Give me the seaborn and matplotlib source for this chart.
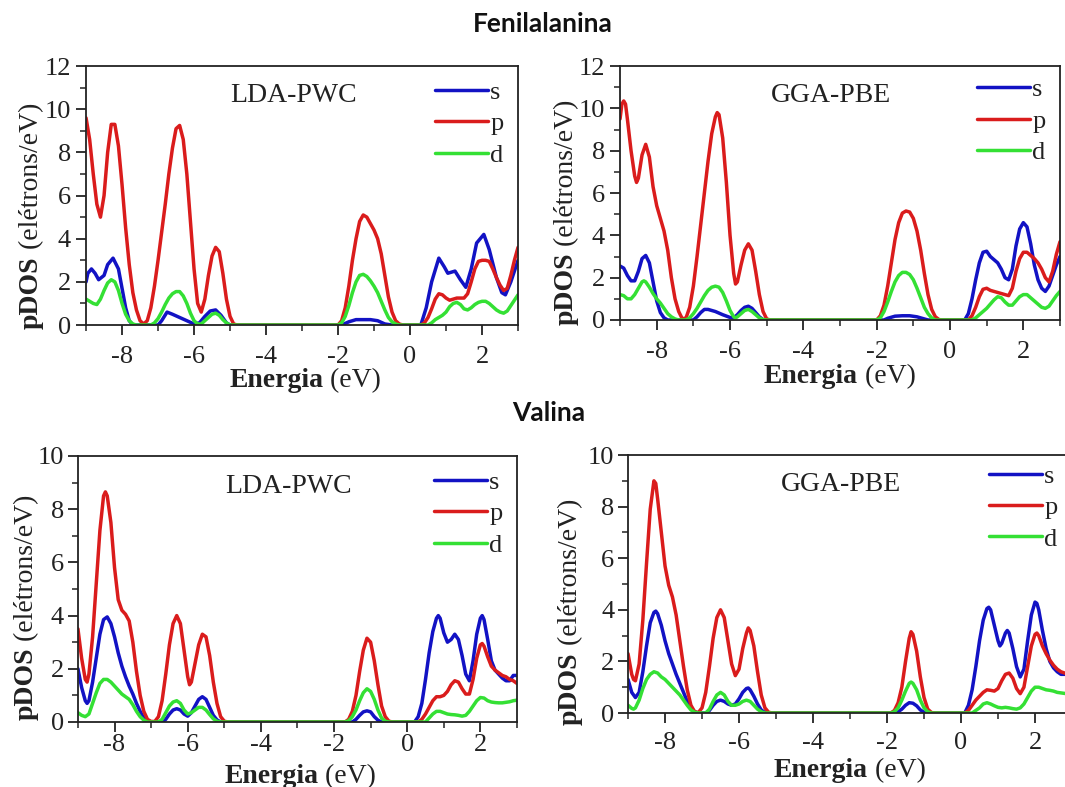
import numpy as np
import pandas as pd
import matplotlib
matplotlib.use("Agg")
import matplotlib.pyplot as plt
from matplotlib.ticker import MultipleLocator
from matplotlib.transforms import offset_copy
import seaborn as sns

# ------------------------------------------------------------------
# DADOS: pares (energia eV, pDOS)
# ------------------------------------------------------------------
ORBITAIS = ["s", "p", "d"]
CORES = ["#1212c4", "#da1c1c", "#34e034"]

# Fenilalanina - LDA-PWC
FEN_LDA_S = [(-9, 2.0), (-8.95, 2.4), (-8.85, 2.6), (-8.75, 2.4), (-8.65, 2.1), (-8.5, 2.3),
             (-8.4, 2.8), (-8.25, 3.1), (-8.1, 2.6), (-8.0, 1.7), (-7.9, 0.8), (-7.8, 0.2),
             (-7.7, 0.0), (-7.0, 0.0), (-6.9, 0.2), (-6.75, 0.6), (-6.6, 0.5), (-6.4, 0.35),
             (-6.2, 0.2), (-6.0, 0.05), (-5.85, 0.1), (-5.7, 0.4), (-5.55, 0.65), (-5.4, 0.7),
             (-5.25, 0.45), (-5.1, 0.1), (-5.0, 0.0), (-1.9, 0.0), (-1.7, 0.15), (-1.5, 0.25),
             (-1.3, 0.25), (-1.1, 0.25), (-0.9, 0.2), (-0.7, 0.05), (-0.5, 0.0), (0.3, 0.0),
             (0.45, 0.8), (0.6, 2.0), (0.8, 3.1), (0.95, 2.7), (1.05, 2.4), (1.25, 2.5),
             (1.4, 2.1), (1.55, 1.75), (1.7, 2.6), (1.85, 3.8), (2.05, 4.2), (2.2, 3.5),
             (2.4, 2.2), (2.55, 1.5), (2.65, 1.4), (2.8, 2.0), (3.0, 3.0)]
FEN_LDA_P = [(-9, 9.6), (-8.9, 8.6), (-8.8, 7.0), (-8.7, 5.6), (-8.6, 5.0), (-8.5, 6.0),
             (-8.4, 8.0), (-8.3, 9.3), (-8.2, 9.3), (-8.1, 8.3), (-8.0, 6.5), (-7.9, 4.5),
             (-7.8, 2.8), (-7.7, 1.5), (-7.6, 0.7), (-7.5, 0.2), (-7.4, 0.05), (-7.3, 0.2),
             (-7.2, 0.8), (-7.1, 1.8), (-7.0, 3.0), (-6.9, 4.3), (-6.8, 5.6), (-6.7, 7.0),
             (-6.6, 8.2), (-6.5, 9.1), (-6.4, 9.25), (-6.3, 8.6), (-6.2, 7.0), (-6.1, 4.8),
             (-6.0, 2.6), (-5.9, 1.0), (-5.8, 0.6), (-5.7, 1.2), (-5.6, 2.3), (-5.5, 3.2),
             (-5.4, 3.6), (-5.3, 3.4), (-5.2, 2.4), (-5.1, 1.2), (-5.0, 0.4), (-4.9, 0.05),
             (-4.8, 0.0), (-2.0, 0.0), (-1.9, 0.2), (-1.8, 0.8), (-1.7, 1.8), (-1.6, 3.0),
             (-1.5, 4.0), (-1.4, 4.8), (-1.3, 5.1), (-1.2, 5.0), (-1.1, 4.7), (-1.0, 4.4),
             (-0.9, 4.0), (-0.8, 3.3), (-0.7, 2.3), (-0.6, 1.3), (-0.5, 0.6), (-0.4, 0.2),
             (-0.3, 0.05), (-0.2, 0.0), (0.3, 0.0), (0.4, 0.1), (0.5, 0.35), (0.6, 0.75),
             (0.7, 1.2), (0.8, 1.45), (0.9, 1.4), (1.0, 1.25), (1.1, 1.15), (1.2, 1.2),
             (1.3, 1.25), (1.4, 1.25), (1.5, 1.25), (1.6, 1.45), (1.7, 2.0), (1.8, 2.6),
             (1.9, 2.95), (2.0, 3.0), (2.1, 3.0), (2.2, 2.95), (2.3, 2.6), (2.4, 2.2),
             (2.5, 1.85), (2.6, 1.6), (2.7, 1.7), (2.8, 2.3), (2.9, 3.0), (3.0, 3.6)]
FEN_LDA_D = [(-9, 1.2), (-8.9, 1.1), (-8.8, 1.0), (-8.7, 0.95), (-8.6, 1.2), (-8.5, 1.6),
             (-8.4, 1.95), (-8.3, 2.1), (-8.2, 2.0), (-8.1, 1.6), (-8.0, 1.0), (-7.9, 0.5),
             (-7.8, 0.2), (-7.7, 0.05), (-7.6, 0.0), (-7.2, 0.0), (-7.1, 0.1), (-7.0, 0.3),
             (-6.9, 0.6), (-6.8, 0.95), (-6.7, 1.25), (-6.6, 1.45), (-6.5, 1.55), (-6.4, 1.55),
             (-6.3, 1.35), (-6.2, 1.0), (-6.1, 0.55), (-6.0, 0.2), (-5.9, 0.05), (-5.8, 0.05),
             (-5.7, 0.2), (-5.6, 0.35), (-5.5, 0.5), (-5.4, 0.55), (-5.3, 0.45), (-5.2, 0.25),
             (-5.1, 0.1), (-5.0, 0.0), (-2.0, 0.0), (-1.9, 0.1), (-1.8, 0.4), (-1.7, 0.9),
             (-1.6, 1.5), (-1.5, 2.0), (-1.4, 2.3), (-1.3, 2.35), (-1.2, 2.25), (-1.1, 2.05),
             (-1.0, 1.8), (-0.9, 1.5), (-0.8, 1.1), (-0.7, 0.7), (-0.6, 0.35), (-0.5, 0.15),
             (-0.4, 0.05), (-0.3, 0.0), (0.5, 0.0), (0.6, 0.1), (0.7, 0.25), (0.8, 0.35),
             (0.9, 0.45), (1.0, 0.6), (1.1, 0.85), (1.2, 1.0), (1.3, 1.05), (1.4, 0.95),
             (1.5, 0.75), (1.6, 0.7), (1.7, 0.8), (1.8, 0.95), (1.9, 1.05), (2.0, 1.1),
             (2.1, 1.1), (2.2, 1.0), (2.3, 0.85), (2.4, 0.7), (2.5, 0.6), (2.6, 0.55),
             (2.7, 0.65), (2.8, 0.9), (2.9, 1.15), (3.0, 1.4)]

# Fenilalanina - GGA-PBE
FEN_GGA_S = [(-9, 2.55), (-8.9, 2.45), (-8.8, 2.1), (-8.7, 1.85), (-8.6, 1.85), (-8.5, 2.3),
             (-8.4, 2.9), (-8.3, 3.05), (-8.2, 2.7), (-8.1, 1.8), (-8.0, 0.9), (-7.9, 0.35),
             (-7.8, 0.1), (-7.7, 0.0), (-7.0, 0.0), (-6.9, 0.15), (-6.8, 0.35), (-6.7, 0.5),
             (-6.6, 0.5), (-6.4, 0.4), (-6.2, 0.25), (-6.0, 0.12), (-5.9, 0.1), (-5.8, 0.25),
             (-5.7, 0.45), (-5.6, 0.6), (-5.5, 0.65), (-5.4, 0.55), (-5.3, 0.35), (-5.2, 0.15),
             (-5.1, 0.02), (-5.0, 0.0), (-1.8, 0.0), (-1.7, 0.08), (-1.5, 0.18), (-1.3, 0.2),
             (-1.1, 0.2), (-0.9, 0.15), (-0.7, 0.05), (-0.6, 0.0), (0.4, 0.0), (0.5, 0.3),
             (0.6, 1.0), (0.7, 1.9), (0.8, 2.7), (0.9, 3.2), (1.0, 3.25), (1.1, 3.0),
             (1.2, 2.85), (1.3, 2.7), (1.4, 2.4), (1.5, 2.0), (1.6, 1.9), (1.7, 2.4),
             (1.8, 3.5), (1.9, 4.3), (2.0, 4.6), (2.1, 4.4), (2.2, 3.6), (2.3, 2.6),
             (2.4, 1.9), (2.5, 1.5), (2.6, 1.35), (2.7, 1.6), (2.8, 2.1), (2.9, 2.6), (3.0, 3.0)]
FEN_GGA_P = [(-9, 9.5), (-8.95, 10.2), (-8.9, 10.35), (-8.85, 10.2), (-8.8, 9.5), (-8.7, 8.0),
             (-8.6, 6.8), (-8.55, 6.5), (-8.5, 6.7), (-8.4, 7.8), (-8.3, 8.3), (-8.2, 7.7),
             (-8.1, 6.3), (-8.0, 5.4), (-7.9, 4.8), (-7.8, 4.2), (-7.7, 3.3), (-7.6, 2.0),
             (-7.5, 1.0), (-7.4, 0.4), (-7.3, 0.05), (-7.2, 0.1), (-7.1, 0.6), (-7.0, 1.6),
             (-6.9, 3.0), (-6.8, 4.5), (-6.7, 6.0), (-6.6, 7.5), (-6.5, 8.8), (-6.4, 9.6),
             (-6.35, 9.8), (-6.3, 9.7), (-6.2, 8.6), (-6.1, 6.5), (-6.0, 4.0), (-5.9, 2.2),
             (-5.85, 1.7), (-5.8, 1.8), (-5.7, 2.6), (-5.6, 3.3), (-5.5, 3.6), (-5.4, 3.3),
             (-5.3, 2.3), (-5.2, 1.2), (-5.1, 0.4), (-5.0, 0.05), (-4.9, 0.0), (-2.0, 0.0),
             (-1.9, 0.2), (-1.8, 0.7), (-1.7, 1.6), (-1.6, 2.7), (-1.5, 3.8), (-1.4, 4.6),
             (-1.3, 5.05), (-1.2, 5.15), (-1.1, 5.1), (-1.0, 4.8), (-0.9, 4.2), (-0.8, 3.3),
             (-0.7, 2.2), (-0.6, 1.2), (-0.5, 0.5), (-0.4, 0.15), (-0.3, 0.02), (-0.2, 0.0),
             (0.5, 0.0), (0.6, 0.2), (0.7, 0.6), (0.8, 1.1), (0.9, 1.45), (1.0, 1.5),
             (1.1, 1.4), (1.2, 1.35), (1.3, 1.3), (1.4, 1.25), (1.5, 1.2), (1.6, 1.15),
             (1.7, 1.5), (1.8, 2.3), (1.9, 2.9), (2.0, 3.2), (2.1, 3.2), (2.2, 3.05),
             (2.3, 2.9), (2.4, 2.7), (2.5, 2.4), (2.6, 2.0), (2.7, 1.8), (2.8, 2.3),
             (2.9, 3.1), (3.0, 3.7)]
FEN_GGA_D = [(-9, 1.2), (-8.9, 1.15), (-8.8, 1.0), (-8.7, 1.0), (-8.6, 1.2), (-8.5, 1.5),
             (-8.4, 1.8), (-8.35, 1.85), (-8.3, 1.8), (-8.2, 1.55), (-8.1, 1.25), (-8.0, 1.0),
             (-7.9, 0.8), (-7.8, 0.55), (-7.7, 0.3), (-7.6, 0.15), (-7.5, 0.05), (-7.4, 0.0),
             (-7.2, 0.0), (-7.1, 0.1), (-7.0, 0.3), (-6.9, 0.55), (-6.8, 0.85), (-6.7, 1.15),
             (-6.6, 1.4), (-6.5, 1.55), (-6.4, 1.6), (-6.3, 1.55), (-6.2, 1.3), (-6.1, 0.9),
             (-6.0, 0.45), (-5.9, 0.15), (-5.85, 0.1), (-5.8, 0.15), (-5.7, 0.3), (-5.6, 0.45),
             (-5.5, 0.5), (-5.4, 0.4), (-5.3, 0.25), (-5.2, 0.1), (-5.1, 0.02), (-5.0, 0.0),
             (-2.0, 0.0), (-1.9, 0.1), (-1.8, 0.4), (-1.7, 0.85), (-1.6, 1.35), (-1.5, 1.8),
             (-1.4, 2.1), (-1.3, 2.25), (-1.2, 2.25), (-1.1, 2.15), (-1.0, 1.9), (-0.9, 1.5),
             (-0.8, 1.05), (-0.7, 0.6), (-0.6, 0.3), (-0.5, 0.1), (-0.4, 0.0), (0.6, 0.0),
             (0.7, 0.1), (0.8, 0.25), (0.9, 0.4), (1.0, 0.55), (1.1, 0.75), (1.2, 0.95),
             (1.3, 1.1), (1.4, 1.05), (1.5, 0.85), (1.6, 0.7), (1.7, 0.7), (1.8, 0.9),
             (1.9, 1.1), (2.0, 1.2), (2.1, 1.2), (2.2, 1.05), (2.3, 0.9), (2.4, 0.75),
             (2.5, 0.6), (2.6, 0.55), (2.7, 0.65), (2.8, 0.9), (2.9, 1.15), (3.0, 1.35)]

# Valina - LDA-PWC
VAL_LDA_S = [(-9, 2.0), (-8.9, 1.3), (-8.8, 0.8), (-8.75, 0.7), (-8.7, 0.8), (-8.6, 1.5),
             (-8.5, 2.4), (-8.4, 3.3), (-8.3, 3.85), (-8.2, 3.95), (-8.1, 3.7), (-8.0, 3.2),
             (-7.9, 2.6), (-7.8, 2.1), (-7.7, 1.7), (-7.6, 1.35), (-7.5, 1.05), (-7.4, 0.7),
             (-7.3, 0.4), (-7.2, 0.15), (-7.1, 0.03), (-7.0, 0.0), (-6.7, 0.0), (-6.6, 0.1),
             (-6.5, 0.3), (-6.4, 0.45), (-6.3, 0.5), (-6.2, 0.45), (-6.1, 0.3), (-6.0, 0.22),
             (-5.9, 0.35), (-5.8, 0.6), (-5.7, 0.85), (-5.6, 0.95), (-5.5, 0.85), (-5.4, 0.55),
             (-5.3, 0.25), (-5.2, 0.08), (-5.1, 0.0), (-1.5, 0.0), (-1.4, 0.1), (-1.3, 0.25),
             (-1.2, 0.38), (-1.1, 0.42), (-1.0, 0.38), (-0.9, 0.2), (-0.8, 0.07), (-0.7, 0.0),
             (0.2, 0.0), (0.3, 0.2), (0.4, 0.7), (0.5, 1.6), (0.6, 2.6), (0.7, 3.4),
             (0.8, 3.9), (0.85, 4.0), (0.9, 3.9), (1.0, 3.35), (1.1, 3.0), (1.2, 3.1),
             (1.3, 3.3), (1.4, 3.1), (1.5, 2.5), (1.6, 1.8), (1.7, 1.55), (1.8, 2.3),
             (1.9, 3.3), (2.0, 3.9), (2.05, 4.0), (2.1, 3.85), (2.2, 3.1), (2.3, 2.3),
             (2.4, 1.95), (2.5, 1.8), (2.6, 1.65), (2.7, 1.55), (2.8, 1.55), (2.9, 1.75),
             (3.0, 1.75)]
VAL_LDA_P = [(-9, 3.5), (-8.9, 2.4), (-8.8, 1.6), (-8.75, 1.5), (-8.7, 1.8), (-8.6, 3.2),
             (-8.5, 5.2), (-8.4, 7.2), (-8.3, 8.5), (-8.25, 8.65), (-8.2, 8.5), (-8.1, 7.5),
             (-8.0, 5.8), (-7.9, 4.6), (-7.8, 4.2), (-7.7, 4.05), (-7.6, 3.8), (-7.5, 3.0),
             (-7.4, 1.9), (-7.3, 1.0), (-7.2, 0.4), (-7.1, 0.1), (-7.0, 0.02), (-6.9, 0.02),
             (-6.8, 0.2), (-6.7, 0.8), (-6.6, 1.8), (-6.5, 2.9), (-6.4, 3.7), (-6.3, 4.0),
             (-6.2, 3.7), (-6.1, 2.7), (-6.0, 1.7), (-5.95, 1.4), (-5.9, 1.5), (-5.8, 2.2),
             (-5.7, 2.9), (-5.6, 3.3), (-5.5, 3.2), (-5.4, 2.5), (-5.3, 1.5), (-5.2, 0.7),
             (-5.1, 0.2), (-5.0, 0.03), (-4.9, 0.0), (-1.7, 0.0), (-1.6, 0.1), (-1.5, 0.4),
             (-1.4, 1.0), (-1.3, 1.9), (-1.2, 2.7), (-1.1, 3.15), (-1.0, 3.0), (-0.9, 2.3),
             (-0.8, 1.4), (-0.7, 0.6), (-0.6, 0.2), (-0.5, 0.03), (-0.4, 0.0), (0.3, 0.0),
             (0.4, 0.1), (0.5, 0.3), (0.6, 0.55), (0.7, 0.8), (0.8, 0.95), (0.9, 0.95),
             (1.0, 1.0), (1.1, 1.15), (1.2, 1.4), (1.3, 1.55), (1.4, 1.5), (1.5, 1.25),
             (1.6, 1.05), (1.7, 1.05), (1.8, 1.6), (1.9, 2.4), (2.0, 2.9), (2.05, 2.95),
             (2.1, 2.85), (2.2, 2.45), (2.3, 2.1), (2.4, 1.95), (2.5, 1.85), (2.6, 1.75),
             (2.7, 1.7), (2.8, 1.6), (2.9, 1.55), (3.0, 1.45)]
VAL_LDA_D = [(-9, 0.35), (-8.9, 0.25), (-8.8, 0.2), (-8.7, 0.3), (-8.6, 0.7), (-8.5, 1.1),
             (-8.4, 1.45), (-8.3, 1.6), (-8.2, 1.6), (-8.1, 1.5), (-8.0, 1.35), (-7.9, 1.2),
             (-7.8, 1.05), (-7.7, 0.95), (-7.6, 0.85), (-7.5, 0.65), (-7.4, 0.4), (-7.3, 0.2),
             (-7.2, 0.07), (-7.1, 0.0), (-6.8, 0.0), (-6.7, 0.1), (-6.6, 0.35), (-6.5, 0.6),
             (-6.4, 0.75), (-6.3, 0.8), (-6.2, 0.7), (-6.1, 0.45), (-6.0, 0.3), (-5.9, 0.35),
             (-5.8, 0.45), (-5.7, 0.55), (-5.6, 0.55), (-5.5, 0.45), (-5.4, 0.28), (-5.3, 0.12),
             (-5.2, 0.03), (-5.1, 0.0), (-1.7, 0.0), (-1.6, 0.05), (-1.5, 0.2), (-1.4, 0.45),
             (-1.3, 0.8), (-1.2, 1.1), (-1.1, 1.25), (-1.0, 1.15), (-0.9, 0.85), (-0.8, 0.45),
             (-0.7, 0.15), (-0.6, 0.03), (-0.5, 0.0), (0.5, 0.0), (0.6, 0.15), (0.7, 0.3),
             (0.8, 0.4), (0.9, 0.4), (1.0, 0.35), (1.1, 0.3), (1.2, 0.28), (1.3, 0.27),
             (1.4, 0.25), (1.5, 0.22), (1.6, 0.25), (1.7, 0.4), (1.8, 0.6), (1.9, 0.8),
             (2.0, 0.92), (2.1, 0.9), (2.2, 0.8), (2.3, 0.75), (2.4, 0.73), (2.5, 0.72),
             (2.6, 0.72), (2.7, 0.74), (2.8, 0.76), (2.9, 0.8), (3.0, 0.82)]

# Valina - GGA-PBE
VAL_GGA_S = [(-9, 1.3), (-8.9, 0.8), (-8.8, 0.6), (-8.7, 0.8), (-8.6, 1.6), (-8.5, 2.6),
             (-8.4, 3.5), (-8.3, 3.9), (-8.25, 3.95), (-8.2, 3.85), (-8.1, 3.4), (-8.0, 2.8),
             (-7.9, 2.3), (-7.8, 1.9), (-7.7, 1.5), (-7.6, 1.15), (-7.5, 0.8), (-7.4, 0.45),
             (-7.3, 0.2), (-7.2, 0.05), (-7.1, 0.0), (-6.9, 0.0), (-6.8, 0.1), (-6.7, 0.3),
             (-6.6, 0.45), (-6.5, 0.5), (-6.4, 0.45), (-6.3, 0.35), (-6.2, 0.3), (-6.1, 0.35),
             (-6.0, 0.55), (-5.9, 0.8), (-5.8, 0.95), (-5.75, 0.97), (-5.7, 0.9), (-5.6, 0.65),
             (-5.5, 0.35), (-5.4, 0.12), (-5.3, 0.02), (-5.2, 0.0), (-1.8, 0.0), (-1.7, 0.05),
             (-1.6, 0.15), (-1.5, 0.3), (-1.4, 0.4), (-1.3, 0.38), (-1.2, 0.28), (-1.1, 0.12),
             (-1.0, 0.03), (-0.9, 0.0), (0.1, 0.0), (0.2, 0.3), (0.3, 0.9), (0.4, 1.8),
             (0.5, 2.8), (0.6, 3.6), (0.7, 4.05), (0.75, 4.1), (0.8, 4.0), (0.9, 3.4),
             (1.0, 2.8), (1.05, 2.6), (1.1, 2.7), (1.2, 3.1), (1.25, 3.2), (1.3, 3.1),
             (1.4, 2.5), (1.5, 1.8), (1.6, 1.4), (1.7, 1.7), (1.8, 2.8), (1.9, 3.8),
             (2.0, 4.3), (2.05, 4.25), (2.1, 4.0), (2.2, 3.2), (2.3, 2.5), (2.4, 2.0),
             (2.5, 1.75), (2.6, 1.6), (2.7, 1.5), (2.8, 1.5), (2.9, 1.5), (3.0, 1.55)]
VAL_GGA_P = [(-9, 2.3), (-8.9, 1.5), (-8.85, 1.3), (-8.8, 1.25), (-8.7, 1.9), (-8.6, 3.6),
             (-8.5, 5.8), (-8.4, 7.9), (-8.3, 9.0), (-8.25, 8.9), (-8.2, 8.3), (-8.1, 7.0),
             (-8.0, 5.7), (-7.9, 4.95), (-7.8, 4.5), (-7.7, 3.8), (-7.6, 2.8), (-7.5, 1.8),
             (-7.4, 0.9), (-7.3, 0.3), (-7.2, 0.05), (-7.1, 0.02), (-7.0, 0.2), (-6.9, 0.8),
             (-6.8, 1.8), (-6.7, 2.9), (-6.6, 3.7), (-6.5, 4.0), (-6.4, 3.7), (-6.3, 2.8),
             (-6.2, 1.9), (-6.1, 1.45), (-6.0, 1.7), (-5.9, 2.5), (-5.8, 3.1), (-5.75, 3.3),
             (-5.7, 3.2), (-5.6, 2.6), (-5.5, 1.6), (-5.4, 0.7), (-5.3, 0.2), (-5.2, 0.03),
             (-5.1, 0.0), (-1.9, 0.0), (-1.8, 0.1), (-1.7, 0.4), (-1.6, 1.0), (-1.5, 2.0),
             (-1.4, 2.9), (-1.35, 3.15), (-1.3, 3.05), (-1.2, 2.4), (-1.1, 1.4), (-1.0, 0.6),
             (-0.9, 0.15), (-0.8, 0.02), (-0.7, 0.0), (0.1, 0.0), (0.2, 0.1), (0.3, 0.3),
             (0.4, 0.5), (0.5, 0.65), (0.6, 0.8), (0.7, 0.9), (0.8, 0.88), (0.9, 0.85),
             (1.0, 0.95), (1.1, 1.25), (1.2, 1.5), (1.3, 1.55), (1.4, 1.35), (1.5, 0.95),
             (1.6, 0.75), (1.7, 1.0), (1.8, 1.8), (1.9, 2.6), (2.0, 3.05), (2.05, 3.1),
             (2.1, 3.0), (2.2, 2.6), (2.3, 2.3), (2.4, 2.05), (2.5, 1.85), (2.6, 1.7),
             (2.7, 1.6), (2.8, 1.55), (2.9, 1.5), (3.0, 1.55)]
VAL_GGA_D = [(-9, 0.3), (-8.9, 0.18), (-8.85, 0.15), (-8.8, 0.2), (-8.7, 0.5), (-8.6, 0.95),
             (-8.5, 1.3), (-8.4, 1.5), (-8.3, 1.6), (-8.2, 1.55), (-8.1, 1.4), (-8.0, 1.3),
             (-7.9, 1.15), (-7.8, 1.0), (-7.7, 0.85), (-7.6, 0.7), (-7.5, 0.5), (-7.4, 0.3),
             (-7.3, 0.12), (-7.2, 0.03), (-7.1, 0.0), (-6.9, 0.0), (-6.8, 0.15), (-6.7, 0.45),
             (-6.6, 0.7), (-6.5, 0.8), (-6.4, 0.7), (-6.3, 0.45), (-6.2, 0.3), (-6.1, 0.3),
             (-6.0, 0.35), (-5.9, 0.45), (-5.8, 0.5), (-5.7, 0.45), (-5.6, 0.3), (-5.5, 0.15),
             (-5.4, 0.05), (-5.3, 0.0), (-1.9, 0.0), (-1.8, 0.05), (-1.7, 0.2), (-1.6, 0.5),
             (-1.5, 0.85), (-1.4, 1.15), (-1.35, 1.2), (-1.3, 1.15), (-1.2, 0.9), (-1.1, 0.5),
             (-1.0, 0.2), (-0.9, 0.05), (-0.8, 0.0), (0.3, 0.0), (0.4, 0.1), (0.5, 0.2),
             (0.6, 0.35), (0.7, 0.4), (0.8, 0.35), (0.9, 0.28), (1.0, 0.22), (1.1, 0.2),
             (1.2, 0.22), (1.3, 0.2), (1.4, 0.17), (1.5, 0.15), (1.6, 0.2), (1.7, 0.35),
             (1.8, 0.6), (1.9, 0.85), (2.0, 1.0), (2.1, 1.0), (2.2, 0.95), (2.3, 0.9),
             (2.4, 0.88), (2.5, 0.85), (2.6, 0.8), (2.7, 0.78), (2.8, 0.76), (2.9, 0.75),
             (3.0, 0.75)]

YMAX = [12, 12, 10, 10]
METODOS = ["LDA-PWC", "GGA-PBE", "LDA-PWC", "GGA-PBE"]
CURVAS = [
    (FEN_LDA_S, FEN_LDA_P, FEN_LDA_D),
    (FEN_GGA_S, FEN_GGA_P, FEN_GGA_D),
    (VAL_LDA_S, VAL_LDA_P, VAL_LDA_D),
    (VAL_GGA_S, VAL_GGA_P, VAL_GGA_D),
]

# ------------------------------------------------------------------
# LAYOUT (fração da figura) [esq, base, larg, alt] e rótulos
# ------------------------------------------------------------------
POSICOES = [
    [0.0808, 0.587, 0.4056, 0.329],
    [0.5822, 0.5934, 0.4131, 0.3227],
    [0.0732, 0.0826, 0.4122, 0.338],
    [0.5897, 0.094, 0.4169, 0.3278],
]
X_CORTE = [0.549, 0.541, 0.547, 0.540]   # onde termina "Energia"
X_DESC = [62, 63, 61, 64]                # px abaixo do eixo (linha de base)
Y_CORTE = [0.266, 0.264, 0.279, 0.236]   # onde termina "pDOS"
Y_DESC = [48, 47, 45, 51]                # px à esquerda do eixo
X_PAD = [8, 8, 2, 6.5]
Y_PAD = [4, 4, 3, 3]
LEG_Y = [1.0, 1.01, 1.0, 1.02]

# ------------------------------------------------------------------
# ESTILO
# ------------------------------------------------------------------
sns.set_theme(style="ticks")
plt.rcParams.update({
    "font.family": "serif",
    "font.serif": ["Liberation Serif", "DejaVu Serif"],
    "axes.unicode_minus": False,
    "axes.edgecolor": "#222222",
    "axes.linewidth": 1.3,
    "text.color": "#222222",
    "xtick.color": "#222222",
    "ytick.color": "#222222",
    "xtick.labelsize": 19,
    "ytick.labelsize": 19,
    "xtick.direction": "out",
    "ytick.direction": "out",
    "xtick.major.size": 7,
    "ytick.major.size": 7,
    "xtick.minor.size": 4,
    "ytick.minor.size": 4,
    "xtick.major.width": 1.3,
    "ytick.major.width": 1.3,
    "xtick.minor.width": 1.1,
    "ytick.minor.width": 1.1,
})

fig = plt.figure(figsize=(10.65, 7.87), dpi=100)

for i, (pos, curvas) in enumerate(zip(POSICOES, CURVAS)):
    ax = fig.add_axes(pos)
    linhas = []
    for orb, pts in zip(ORBITAIS, curvas):
        arr = np.array(pts)
        linhas.append(pd.DataFrame({"E": arr[:, 0], "pDOS": arr[:, 1], "orb": orb}))
    df = pd.concat(linhas, ignore_index=True)

    sns.lineplot(data=df, x="E", y="pDOS", hue="orb", hue_order=ORBITAIS,
                 palette=CORES, estimator=None, sort=False, linewidth=2.5,
                 ax=ax)

    ax.set_xlim(-9, 3)
    ax.set_ylim(0, YMAX[i])
    ax.xaxis.set_major_locator(MultipleLocator(2))
    ax.xaxis.set_minor_locator(MultipleLocator(1))
    ax.yaxis.set_major_locator(MultipleLocator(2))
    ax.yaxis.set_minor_locator(MultipleLocator(1))
    ax.tick_params(which="both", top=False, right=False)
    ax.tick_params(axis="x", which="major", pad=X_PAD[i])
    ax.tick_params(axis="y", which="major", pad=Y_PAD[i])
    for sp in ax.spines.values():
        sp.set_visible(True)
    ax.set_xlabel("")
    ax.set_ylabel("")

    # rótulo x: "Energia" em negrito + " (eV)" normal, mesma linha de base
    tx = offset_copy(ax.transAxes, fig=fig, x=0, y=-X_DESC[i], units="dots")
    ax.text(X_CORTE[i], 0, "Energia", transform=tx, fontsize=20, fontweight="bold",
            ha="right", va="baseline")
    ax.text(X_CORTE[i], 0, " (eV)", transform=tx, fontsize=20,
            ha="left", va="baseline")

    # rótulo y: "pDOS" em negrito + " (elétrons/eV)" normal
    ty = offset_copy(ax.transAxes, fig=fig, x=-Y_DESC[i], y=0, units="dots")
    ax.text(0, Y_CORTE[i], "pDOS", transform=ty, fontsize=20, fontweight="bold",
            rotation=90, rotation_mode="anchor", ha="right", va="baseline")
    ax.text(0, Y_CORTE[i], " (elétrons/eV)", transform=ty, fontsize=20,
            rotation=90, rotation_mode="anchor", ha="left", va="baseline")

    ax.text(0.48, 0.885, METODOS[i], transform=ax.transAxes, fontsize=20,
            ha="center", va="center")

    handles, labels = ax.get_legend_handles_labels()
    ax.legend(handles, labels, loc="upper right", bbox_to_anchor=(1.0, LEG_Y[i]),
              frameon=False, fontsize=19, handlelength=2.0, handletextpad=0.1,
              labelspacing=0.3, borderaxespad=0.15)

fig.text(0.51, 0.9695, "Fenilalanina", fontsize=19, fontweight="bold",
         family=["Lato", "DejaVu Sans"], ha="center", va="center", color="#111111")
fig.text(0.5155, 0.475, "Valina", fontsize=19, fontweight="bold",
         family=["Lato", "DejaVu Sans"], ha="center", va="center", color="#111111")

fig.savefig("out.png", dpi=100, facecolor="white")
